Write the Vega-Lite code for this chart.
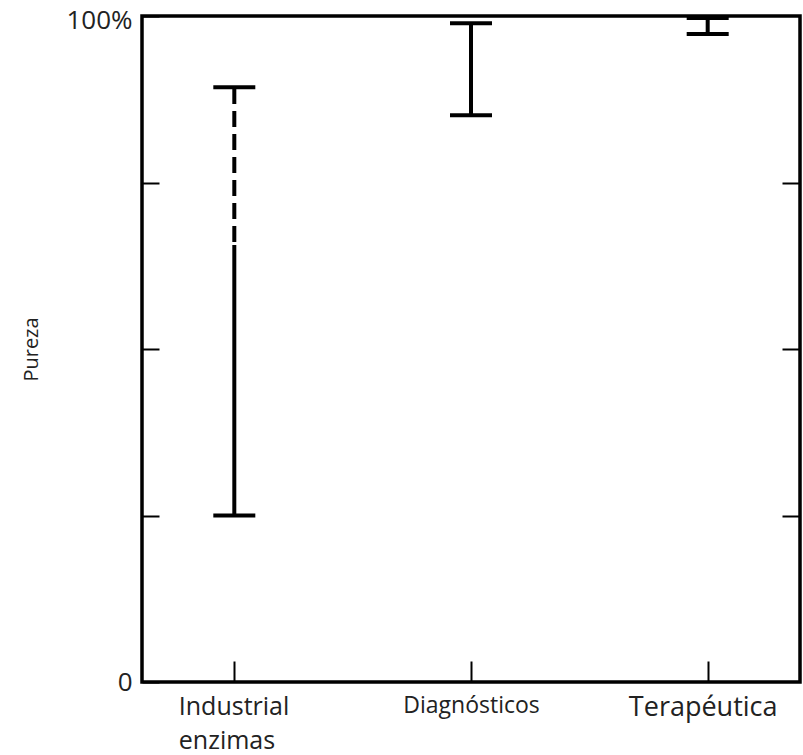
{
  "$schema": "https://vega.github.io/schema/vega-lite/v6.json",
  "width": 658,
  "height": 666,
  "autosize": {"type": "none"},
  "padding": {"left": 142, "top": 16, "right": 3, "bottom": 73},
  "config": {
    "view": {"stroke": "black", "strokeWidth": 3.5},
    "font": "Open Sans"
  },
  "datasets": {
    "ranges": [
      {"cat": "Industrial enzimas", "lo": 25, "hi": 89.3},
      {"cat": "Diagnósticos", "lo": 85.1, "hi": 98.9},
      {"cat": "Terapéutica", "lo": 97.3, "hi": 99.7}
    ],
    "segments": [
      {"cat": "Industrial enzimas", "from": 25, "to": 65.6, "style": "solid"},
      {"cat": "Industrial enzimas", "from": 65.6, "to": 89.3, "style": "dashed"},
      {"cat": "Diagnósticos", "from": 85.1, "to": 98.9, "style": "solid"},
      {"cat": "Terapéutica", "from": 97.3, "to": 99.7, "style": "solid"}
    ]
  },
  "encoding": {
    "x": {
      "field": "cat",
      "type": "nominal",
      "sort": ["Industrial enzimas", "Diagnósticos", "Terapéutica"],
      "scale": {"type": "point", "padding": 0.39},
      "axis": {
        "title": null,
        "domain": false,
        "grid": false,
        "tickSize": -21,
        "tickColor": "black",
        "tickWidth": 2,
        "labelAngle": 0,
        "labelPadding": 33,
        "labelColor": "#222",
        "labelFont": "Open Sans",
        "labelFontSize": {"expr": "datum.value == 'Diagnósticos' ? 23 : (datum.value == 'Terapéutica' ? 27 : 25)"},
        "labelAlign": {"expr": "datum.value == 'Industrial enzimas' ? 'left' : 'center'"},
        "labelOffset": {"expr": "datum.value == 'Terapéutica' ? -5 : (datum.value == 'Industrial enzimas' ? -56 : 0)"},
        "labelLineHeight": 34,
        "labelBaseline": "top",
        "labelExpr": "datum.value == 'Industrial enzimas' ? ['Industrial', 'enzimas'] : datum.value"
      }
    }
  },
  "layer": [
    {
      "data": {"name": "segments"},
      "mark": {"type": "rule", "strokeWidth": 4, "color": "black", "strokeDashOffset": 20},
      "encoding": {
        "y": {
          "field": "from",
          "type": "quantitative",
          "scale": {"domain": [0, 100], "nice": false},
          "axis": {
            "orient": "left",
            "title": "Pureza",
            "titleFont": "Open Sans",
            "titleFontSize": 20,
            "titleFontWeight": "normal",
            "titleColor": "#222",
            "titlePadding": 24,
            "values": [0, 25, 50, 75, 100],
            "labelExpr": "datum.value == 100 ? '100%' : (datum.value == 0 ? '0' : '')",
            "labelFontSize": 26,
            "labelOffset": {"expr": "datum.value == 100 ? 4 : 0"},
            "labelColor": "#222",
            "labelPadding": 27,
            "labelFlush": false,
            "labelOverlap": false,
            "domain": false,
            "grid": false,
            "tickSize": -17,
            "tickWidth": 2,
            "tickColor": "black"
          }
        },
        "y2": {"field": "to"},
        "strokeDash": {
          "field": "style",
          "type": "nominal",
          "scale": {"domain": ["solid", "dashed"], "range": [[1, 0], [16, 7]]},
          "legend": null
        }
      }
    },
    {
      "data": {"name": "ranges"},
      "mark": {"type": "tick", "size": 42, "thickness": 4, "color": "black", "opacity": 1},
      "encoding": {
        "y": {
          "field": "lo",
          "type": "quantitative",
          "axis": {
            "orient": "right",
            "title": null,
            "values": [25, 50, 75],
            "labels": false,
            "domain": false,
            "grid": false,
            "tickSize": -18,
            "tickWidth": 2,
            "tickColor": "black"
          }
        }
      }
    },
    {
      "data": {"name": "ranges"},
      "mark": {"type": "tick", "size": 42, "thickness": 4, "color": "black", "opacity": 1},
      "encoding": {
        "y": {"field": "hi", "type": "quantitative", "axis": null}
      }
    }
  ],
  "resolve": {"axis": {"y": "independent"}}
}
